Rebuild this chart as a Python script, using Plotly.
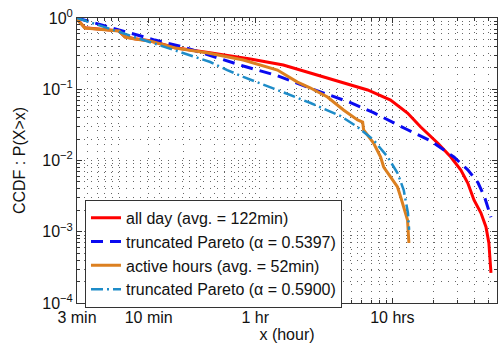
import math
import plotly.graph_objects as go

# ---- data (x in hours, y = CCDF) ----
red_x = [0.05, 0.0507, 0.0571, 0.0735, 0.0946, 0.101, 0.112, 0.132, 0.171, 0.26, 0.453, 0.69, 0.92,
         1.60, 2.84, 4.95, 6.6, 9.7, 12.9, 16.1, 21.4, 26.7, 31.6, 35.5, 39.4, 44.3, 48.2, 50.6, 52.4]
red_y = [1.0, 0.94, 0.73, 0.70, 0.68, 0.66, 0.545, 0.51, 0.478, 0.382, 0.327, 0.293, 0.266,
         0.219, 0.158, 0.115, 0.0977, 0.0706, 0.0464, 0.0295, 0.0176, 0.0112, 0.00736, 0.00483,
         0.00279, 0.00183, 0.00117, 0.000695, 0.000264]

blue_x = [0.05, 0.1, 0.185, 0.308, 0.624, 0.817, 1.45, 2.53, 4.95, 7.29, 12.9, 19.1, 28.1, 35.5,
          42.1, 47.0, 52.4]
blue_y = [1.0, 0.68, 0.49, 0.385, 0.25, 0.212, 0.155, 0.103, 0.065, 0.047, 0.027, 0.0188, 0.0112,
          0.0074, 0.0049, 0.0031, 0.0016]

orange_x = [0.05, 0.0507, 0.0571, 0.0735, 0.0946, 0.101, 0.112, 0.132, 0.171, 0.26, 0.453, 0.817,
            1.45, 2.03, 2.53, 3.36, 4.40, 5.57, 6.07, 6.17, 7.29, 8.21, 8.64, 9.72, 10.9, 11.5,
            12.1, 12.9, 13.2]
orange_y = [1.0, 0.937, 0.724, 0.70, 0.679, 0.657, 0.541, 0.507, 0.475, 0.379, 0.323, 0.257,
            0.186, 0.126, 0.104, 0.0779, 0.0511, 0.0370, 0.0347, 0.0268, 0.0176, 0.0112, 0.0081,
            0.00586, 0.00425, 0.00308, 0.00222, 0.00146, 0.000695]

cyan_x = [0.05, 0.103, 0.202, 0.469, 0.624, 0.817, 1.45, 2.53, 4.19, 5.57, 7.29, 9.24, 10.9,
          12.1, 13.0, 13.25]
cyan_y = [1.0, 0.636, 0.418, 0.241, 0.186, 0.149, 0.0976, 0.0641, 0.0421, 0.0295, 0.0194,
          0.0112, 0.00668, 0.00385, 0.00183, 0.00106]

names = ["all day (avg. = 122min)", "truncated Pareto (α = 0.5397)",
         "active hours (avg. = 52min)", "truncated Pareto (α = 0.5900)"]

x_tickvals = [0.05, 1 / 6, 1, 10]
x_ticktext = ["3 min", "10 min", "1 hr", "10 hrs"]
x_minor = [0.06, 0.07, 0.08, 0.09, 0.1, 0.2, 0.3, 0.4, 0.5, 0.6, 0.7, 0.8, 0.9,
           2, 3, 4, 5, 6, 7, 8, 9, 20, 30, 40, 50]
y_tickvals = [1e-4, 1e-3, 1e-2, 1e-1, 1]
y_ticktext = ["10<sup>−4</sup>", "10<sup>−3</sup>", "10<sup>−2</sup>", "10<sup>−1</sup>", "10<sup>0</sup>"]
y_minor = [m * 10 ** e for e in (-4, -3, -2, -1) for m in range(2, 10)]

x_range = [0.05, 58]
y_range = [1e-4, 1]

FONT = "Liberation Sans, Arial, sans-serif"
GRID = "#666666"
TXT = "#111111"
DOTS = "1px,6px"

fig = go.Figure()
fig.add_trace(go.Scatter(x=red_x, y=red_y, mode="lines", name=names[0],
                         line=dict(color="#ff0000", width=3)))
fig.add_trace(go.Scatter(x=blue_x, y=blue_y, mode="lines", name=names[1],
                         line=dict(color="#0a0af0", width=3, dash="12px,7px")))
fig.add_trace(go.Scatter(x=orange_x, y=orange_y, mode="lines", name=names[2],
                         line=dict(color="#dc8020", width=3)))
fig.add_trace(go.Scatter(x=cyan_x, y=cyan_y, mode="lines", name=names[3],
                         line=dict(color="#1e8cc8", width=2.5, dash="12px,4px,2px,4px")))

axis_common = dict(
    showline=True, linecolor="#333333", linewidth=1, mirror="allticks",
    ticks="inside", ticklen=5, tickcolor="#333333",
    showgrid=True, gridcolor=GRID, griddash=DOTS, gridwidth=1,
    zeroline=False, tickfont=dict(family=FONT, size=16, color=TXT),
)
minor_common = dict(tickmode="array", ticks="inside", ticklen=3, tickcolor="#333333",
                    showgrid=True, gridcolor=GRID, griddash=DOTS, gridwidth=1)

fig.update_xaxes(type="log", range=[math.log10(x_range[0]), math.log10(x_range[1])],
                 tickmode="array", tickvals=x_tickvals, ticktext=x_ticktext,
                 minor=dict(tickvals=x_minor, **minor_common),
                 title=dict(text="x (hour)", font=dict(family=FONT, size=16, color=TXT),
                            standoff=3),
                 **axis_common)
fig.update_yaxes(type="log", range=[math.log10(y_range[0]), math.log10(y_range[1])],
                 tickmode="array", tickvals=y_tickvals, ticktext=y_ticktext,
                 minor=dict(tickvals=y_minor, **minor_common),
                 title=dict(text="CCDF : P(X>x)", font=dict(family=FONT, size=16, color=TXT),
                            standoff=12),
                 **axis_common)

fig.update_layout(
    width=499, height=350,
    margin=dict(l=77, r=2, t=18, b=47),
    paper_bgcolor="white", plot_bgcolor="white",
    font=dict(family=FONT, size=16, color=TXT),
    showlegend=True,
    legend=dict(x=0.019, y=0.362, xanchor="left", yanchor="top",
                bgcolor="white", bordercolor="#333333", borderwidth=1,
                font=dict(family=FONT, size=16, color=TXT),
                tracegroupgap=0),
)

fig.write_html("out.html")
